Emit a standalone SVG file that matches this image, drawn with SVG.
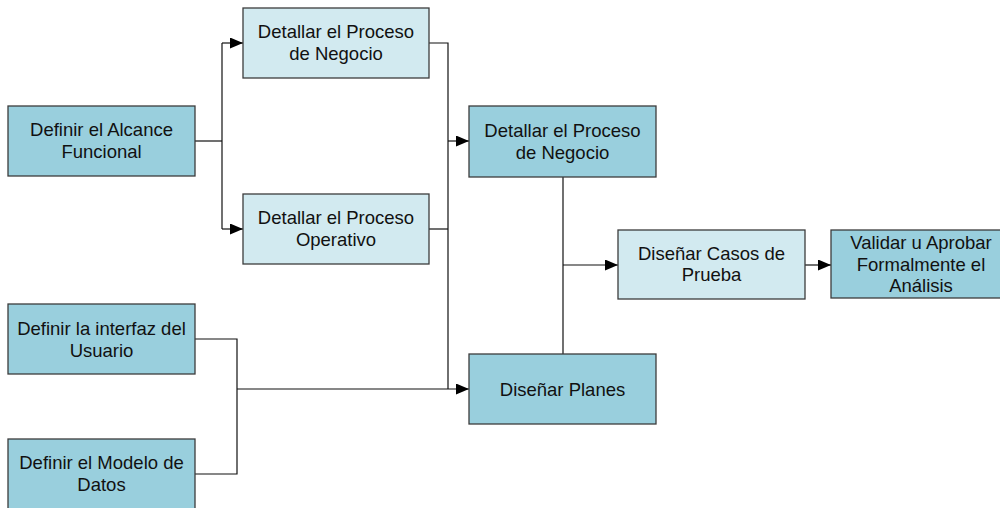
<svg xmlns="http://www.w3.org/2000/svg" width="1000" height="508" viewBox="0 0 1000 508">
  <style>
    .box { stroke: #3c3c3c; stroke-width: 1.3; }
    .dark { fill: #99cfdd; }
    .light { fill: #d2eaf0; }
    .lbl { font-family: "Liberation Sans", Arial, sans-serif; font-size: 18.5px; fill: #111; text-anchor: middle; }
    .wire { fill: none; stroke: #111; stroke-width: 1.2; }
    .arrow { marker-end: url(#head); }
  </style>
  <defs>
    <marker id="head" markerUnits="userSpaceOnUse" markerWidth="13" markerHeight="11" refX="13" refY="5.5" orient="auto">
      <path d="M0,0 L13,5.5 L0,11 z" fill="#000"/>
    </marker>
  </defs>
  <rect width="1000" height="508" fill="#fff"/>

  <g id="connectors">
    <!-- alcance funcional splits to the two detail boxes -->
    <path class="wire" d="M195 141 H222"/>
    <path class="wire" d="M222 43 V229"/>
    <path class="wire arrow" d="M222 43 H243"/>
    <path class="wire arrow" d="M222 229 H243"/>
    <!-- detail boxes merge into the right-hand column -->
    <path class="wire" d="M429 43 H448 V389"/>
    <path class="wire" d="M429 229 H448"/>
    <path class="wire arrow" d="M448 141 H469"/>
    <!-- interfaz + modelo merge -->
    <path class="wire" d="M195 339 H237 V474 H195"/>
    <path class="wire arrow" d="M237 389 H469"/>
    <!-- to test case design -->
    <path class="wire" d="M563 177 V354"/>
    <path class="wire arrow" d="M563 265 H618"/>
    <path class="wire arrow" d="M805 265 H831"/>
  </g>

  <g id="alcance">
    <rect class="box dark" x="8" y="106" width="187" height="70"/>
    <text class="lbl" x="101.5" y="136">Definir el Alcance</text>
    <text class="lbl" x="101.5" y="158">Funcional</text>
  </g>
  <g id="detalle-negocio">
    <rect class="box light" x="243" y="8" width="186" height="70"/>
    <text class="lbl" x="336" y="38">Detallar el Proceso</text>
    <text class="lbl" x="336" y="60">de Negocio</text>
  </g>
  <g id="detalle-operativo">
    <rect class="box light" x="243" y="194" width="186" height="70"/>
    <text class="lbl" x="336" y="224">Detallar el Proceso</text>
    <text class="lbl" x="336" y="246">Operativo</text>
  </g>
  <g id="interfaz">
    <rect class="box dark" x="8" y="304" width="187" height="70"/>
    <text class="lbl" x="101.5" y="335">Definir la interfaz del</text>
    <text class="lbl" x="101.5" y="357">Usuario</text>
  </g>
  <g id="modelo">
    <rect class="box dark" x="8" y="439" width="187" height="72"/>
    <text class="lbl" x="101.5" y="469">Definir el Modelo de</text>
    <text class="lbl" x="101.5" y="491">Datos</text>
  </g>
  <g id="proceso-negocio">
    <rect class="box dark" x="469" y="106" width="187" height="71"/>
    <text class="lbl" x="562.5" y="136.5">Detallar el Proceso</text>
    <text class="lbl" x="562.5" y="158.5">de Negocio</text>
  </g>
  <g id="planes">
    <rect class="box dark" x="469" y="354" width="187" height="70"/>
    <text class="lbl" x="562.5" y="395.5">Diseñar Planes</text>
  </g>
  <g id="casos-prueba">
    <rect class="box light" x="618" y="230" width="187" height="69"/>
    <text class="lbl" x="711.5" y="259.5">Diseñar Casos de</text>
    <text class="lbl" x="711.5" y="281">Prueba</text>
  </g>
  <g id="validar">
    <rect class="box dark" x="831" y="230" width="180" height="68"/>
    <text class="lbl" x="921" y="249">Validar u Aprobar</text>
    <text class="lbl" x="921" y="271">Formalmente el</text>
    <text class="lbl" x="921" y="292">Análisis</text>
  </g>
</svg>
